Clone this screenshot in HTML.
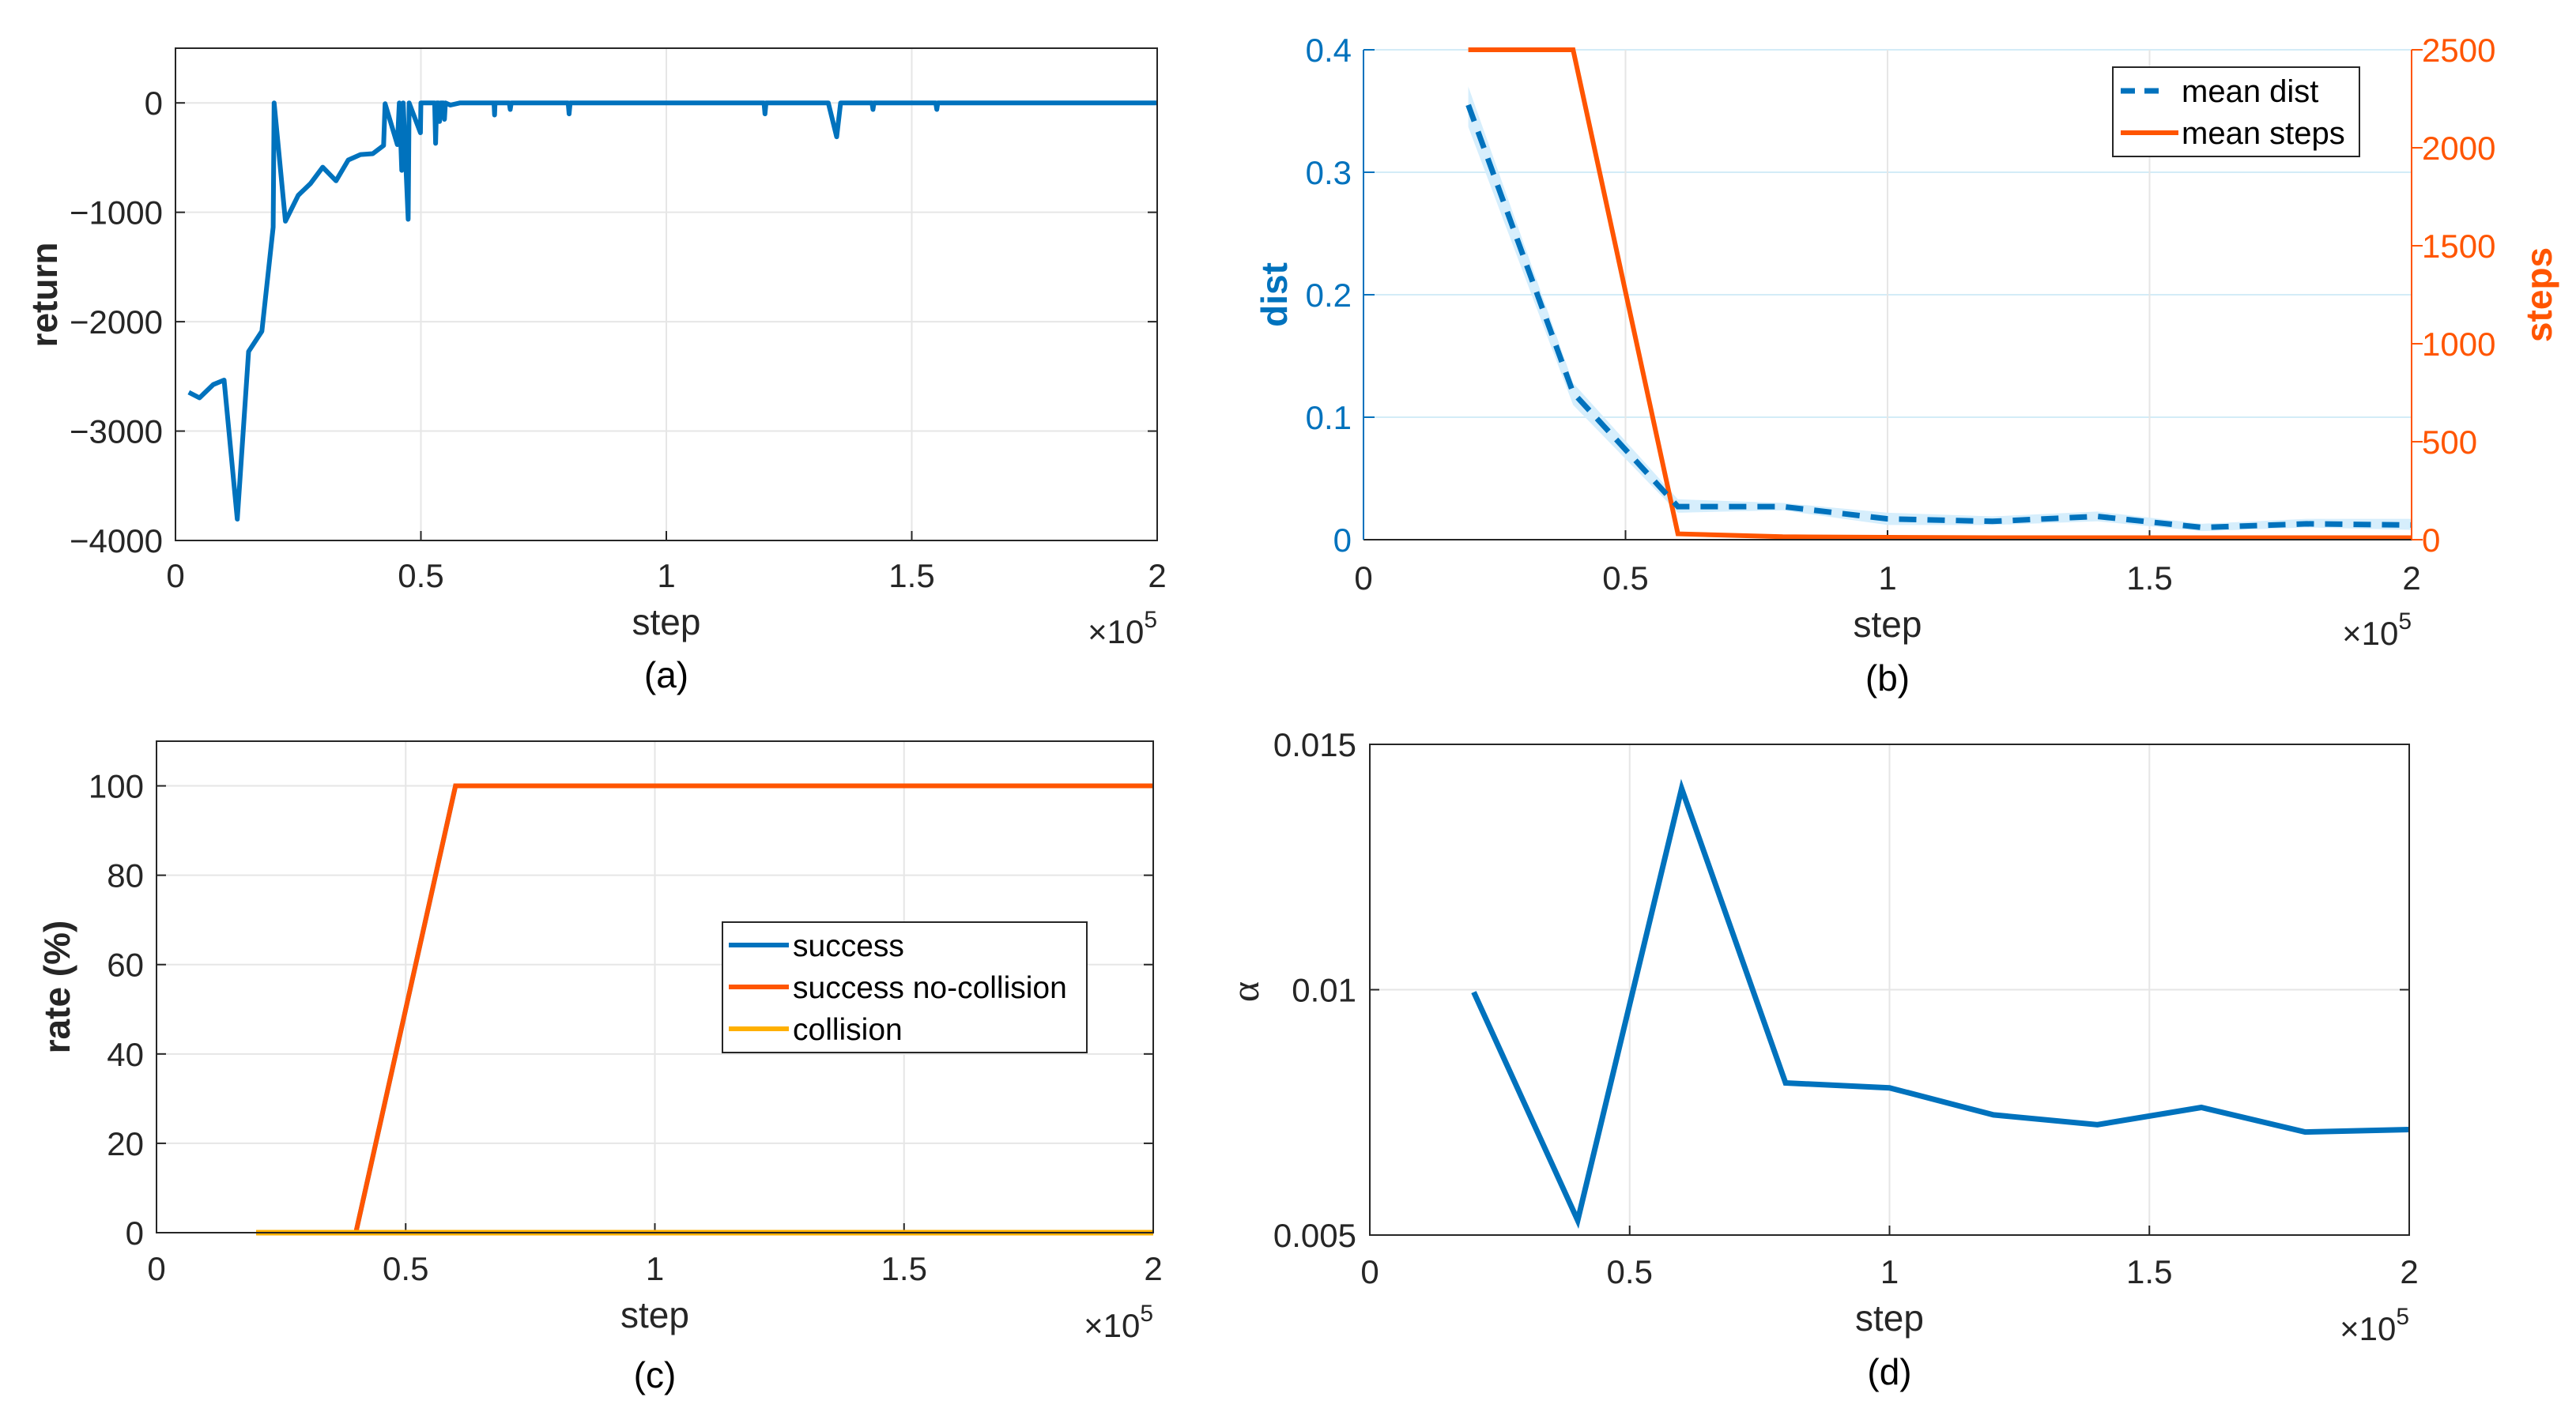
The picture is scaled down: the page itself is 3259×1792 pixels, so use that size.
<!DOCTYPE html>
<html><head><meta charset="utf-8">
<style>
html,body{margin:0;padding:0;background:#fff;overflow:hidden;}
svg{display:block;font-family:"Liberation Sans",Arial,sans-serif;}
</style></head>
<body>
<svg id="fig" width="3259" height="1792" viewBox="0 0 3259 1792" xmlns="http://www.w3.org/2000/svg"></svg>
<script>
// ---------- data ----------
// panel (a): return vs step (x in 1e5)
const aX = [0.027,0.049,0.077,0.099,0.126,0.149,0.176,0.199,0.201,0.224,0.25,0.275,0.30,0.327,0.352,0.377,0.402,0.424,0.427,0.452,0.456,0.461,0.464,0.474,0.476,0.499,0.50,0.528,0.530,0.532,0.536,0.538,0.540,0.546,0.548,0.550,0.56,0.58,0.60,0.649,0.650,0.651,0.680,0.682,0.684,0.80,0.802,0.804,1.199,1.201,1.203,1.33,1.347,1.355,1.419,1.421,1.423,1.549,1.551,1.553,2.0];
const aY = [-2646,-2696,-2575,-2534,-3805,-2273,-2087,-1135,0,-1081,-845,-737,-588,-712,-522,-472,-464,-389,-8,-381,0,-617,0,-1064,0,-273,0,0,-370,0,0,-170,0,0,-150,0,-20,0,0,0,-110,0,0,-60,0,0,-100,0,0,-100,0,0,-310,0,0,-60,0,0,-60,0,0];
const aXTicks = [0,0.5,1,1.5,2];
const aYTicks = [-4000,-3000,-2000,-1000,0];
const aYTickLabels = ["\u22124000","\u22123000","\u22122000","\u22121000","0"];
// panel (b)
const bX = [0.2,0.4,0.6,0.8,1.0,1.2,1.4,1.6,1.8,2.0];
const bDist = [0.355,0.12,0.027,0.027,0.017,0.015,0.019,0.010,0.013,0.012];
const bDistHi = [0.370,0.128,0.033,0.030,0.022,0.019,0.023,0.013,0.017,0.017];
const bDistLo = [0.337,0.110,0.022,0.024,0.012,0.012,0.015,0.007,0.010,0.008];
const bSteps = [2500,2500,30,15,12,10,10,10,10,10];
const bXTicks = [0,0.5,1,1.5,2];
const bDistTicks = [0,0.1,0.2,0.3,0.4];
const bDistTickLabels = ["0","0.1","0.2","0.3","0.4"];
const bStepTicks = [0,500,1000,1500,2000,2500];
// panel (c)
const cX = [0.2,0.4,0.6,0.8,1.0,1.2,1.4,1.6,1.8,2.0];
const cSuccess = [0,0,100,100,100,100,100,100,100,100];
const cNoColl = [0,0,100,100,100,100,100,100,100,100];
const cColl = [0,0,0,0,0,0,0,0,0,0];
const cXTicks = [0,0.5,1,1.5,2];
const cYTicks = [0,20,40,60,80,100];
// panel (d)
const dX = [0.2,0.4,0.6,0.8,1.0,1.2,1.4,1.6,1.8,2.0];
const dAlpha = [0.00995,0.0053,0.0141,0.0081,0.0080,0.00745,0.00725,0.0076,0.0071,0.00715];
const dXTicks = [0,0.5,1,1.5,2];
const dYTicks = [0.005,0.01,0.015];
const dYTickLabels = ["0.005","0.01","0.015"];

// ---------- helpers ----------
const NS="http://www.w3.org/2000/svg";
const svg=document.getElementById('fig');
function mk(tag,attrs,parent,text){const e=document.createElementNS(NS,tag);for(const k in attrs)e.setAttribute(k,attrs[k]);if(text!==undefined)e.textContent=text;(parent||svg).appendChild(e);return e;}
function lin(d0,d1,r0,r1){return v=>r0+(v-d0)*(r1-r0)/(d1-d0);}
function pathOf(xs,ys,sx,sy){return xs.map((x,i)=>(i?'L':'M')+sx(x).toFixed(1)+','+sy(ys[i]).toFixed(1)).join(' ');}
const BLUE='#0072BD',ORANGE='#FF5500',YELLOW='#FFB000',GRID='#e6e6e6';
const FS=42, TS=46;

function xAxis(g,ticks,sx,y0,y1,labY,titleY,mulX,mulY,sub,letter){
  ticks.forEach(t=>{
    const l=mk('line',{x1:sx(t),x2:sx(t),y1:y0,y2:y1,stroke:GRID,'stroke-width':2},g);
    
    const tk=mk('line',{x1:sx(t),x2:sx(t),y1:y1,y2:y1-12,stroke:'#262626','stroke-width':2},g);
    
    const tx=mk('text',{x:sx(t),y:labY,'font-size':FS,'text-anchor':'middle',fill:'#262626'},g,String(t));
    
  });
  const cx=(sx(ticks[0])+sx(ticks[ticks.length-1]))/2;
  const tt=mk('text',{x:cx,y:titleY,'font-size':TS,'text-anchor':'middle',fill:'#262626'},g,'step');
  
  const m=mk('text',{x:mulX,y:mulY,'font-size':FS,'text-anchor':'end',fill:'#262626'},g);
  
  mk('tspan',{},m,'\u00d710');
  mk('tspan',{dy:-20,'font-size':30},m,'5');
  const s=mk('text',{x:cx,y:sub,'font-size':TS,'text-anchor':'middle',fill:'#000'},g,'('+letter+')');
  
}

// ---------- panel (a) ----------
(function(){
  const L=222,R=1464,T=61,B=684;
  const sx=lin(0,2,L,R), sy=lin(-4000,500,B,T);
  const g=mk('g',{});
  aYTicks.forEach((t,i)=>{
    const l=mk('line',{x1:L,x2:R,y1:sy(t),y2:sy(t),stroke:GRID,'stroke-width':2},g);
    
    mk('line',{x1:L,x2:L+12,y1:sy(t),y2:sy(t),stroke:'#262626','stroke-width':2},g);
    mk('line',{x1:R,x2:R-12,y1:sy(t),y2:sy(t),stroke:'#262626','stroke-width':2},g);
    const tx=mk('text',{x:206,y:sy(t)+15,'font-size':FS,'text-anchor':'end',fill:'#262626'},g,aYTickLabels[i]);
    
  });
  xAxis(g,aXTicks,sx,T,B,743,803,1464,814,870,'a');
  const p=mk('path',{d:pathOf(aX,aY,sx,sy),fill:'none',stroke:BLUE,'stroke-width':6,'stroke-linejoin':'round'},g);
  
  const bx=mk('rect',{x:L,y:T,width:R-L,height:B-T,fill:'none',stroke:'#262626','stroke-width':2},g);
  
  const yt=mk('text',{x:0,y:0,'font-size':TS,'font-weight':'bold','text-anchor':'middle',fill:'#262626',transform:'translate(72,373) rotate(-90)'},g,'return');
  
})();

// ---------- panel (b) ----------
(function(){
  const L=1725,R=3051,T=63,B=683;
  const sx=lin(0,2,L,R), sy=lin(0,0.4,B,T), sy2=lin(0,2500,B,T);
  const g=mk('g',{});
  bDistTicks.forEach((t,i)=>{
    const l=mk('line',{x1:L,x2:R,y1:sy(t),y2:sy(t),stroke:'#d3ecf7','stroke-width':2},g);
    
    mk('line',{x1:L,x2:L+14,y1:sy(t),y2:sy(t),stroke:BLUE,'stroke-width':2},g);
    const tx=mk('text',{x:1710,y:sy(t)+15,'font-size':FS,'text-anchor':'end',fill:BLUE},g,bDistTickLabels[i]);
    
  });
  bStepTicks.forEach(t=>{
    mk('line',{x1:R,x2:R+14,y1:sy2(t),y2:sy2(t),stroke:ORANGE,'stroke-width':2},g);
    const tx=mk('text',{x:3064,y:sy2(t)+15,'font-size':FS,'text-anchor':'start',fill:ORANGE},g,String(t));
    
  });
  xAxis(g,bXTicks,sx,T,B,746,806,3051,816,874,'b');
  const band=bX.map((x,i)=>(i?'L':'M')+sx(x)+','+sy(bDistHi[i])).join(' ')+' '+bX.slice().reverse().map((x,j)=>'L'+sx(x)+','+sy(bDistLo[bX.length-1-j])).join(' ')+' Z';
  const bd=mk('path',{d:band,fill:'#d6eefc',stroke:'none'},g);
  
  const ps=mk('path',{d:pathOf(bX,bSteps,sx,sy2),fill:'none',stroke:ORANGE,'stroke-width':6},g);
  
  const pd=mk('path',{d:pathOf(bX,bDist,sx,sy),fill:'none',stroke:BLUE,'stroke-width':7,'stroke-dasharray':'22,14'},g);
  
  mk('line',{x1:L,x2:R,y1:B,y2:B,stroke:'#262626','stroke-width':2},g);
  mk('line',{x1:L,x2:L,y1:T,y2:B,stroke:BLUE,'stroke-width':2},g);
  mk('line',{x1:R,x2:R,y1:T,y2:B,stroke:ORANGE,'stroke-width':2},g);
  const yt=mk('text',{x:0,y:0,'font-size':TS,'font-weight':'bold','text-anchor':'middle',fill:BLUE,transform:'translate(1628,373) rotate(-90)'},g,'dist');
  
  const yt2=mk('text',{x:0,y:0,'font-size':TS,'font-weight':'bold','text-anchor':'middle',fill:ORANGE,transform:'translate(3228,373) rotate(-90)'},g,'steps');
  
  const lg=mk('g',{},g);
  mk('rect',{x:2673,y:85,width:312,height:113,fill:'#fff',stroke:'#262626','stroke-width':2},lg);
  mk('line',{x1:2683,x2:2743,y1:115,y2:115,stroke:BLUE,'stroke-width':7,'stroke-dasharray':'18,12'},lg);
  const t1=mk('text',{x:2760,y:129,'font-size':40,fill:'#000'},lg,'mean dist');
  
  mk('line',{x1:2683,x2:2756,y1:168,y2:168,stroke:ORANGE,'stroke-width':6},lg);
  const t2=mk('text',{x:2760,y:182,'font-size':40,fill:'#000'},lg,'mean steps');
  
})();

// ---------- panel (c) ----------
(function(){
  const L=198,R=1459,T=938,B=1560;
  const sx=lin(0,2,L,R), sy=lin(0,110,B,T);
  const g=mk('g',{});
  cYTicks.forEach(t=>{
    const l=mk('line',{x1:L,x2:R,y1:sy(t),y2:sy(t),stroke:GRID,'stroke-width':2},g);
    
    mk('line',{x1:L,x2:L+12,y1:sy(t),y2:sy(t),stroke:'#262626','stroke-width':2},g);
    mk('line',{x1:R,x2:R-12,y1:sy(t),y2:sy(t),stroke:'#262626','stroke-width':2},g);
    const tx=mk('text',{x:182,y:sy(t)+15,'font-size':FS,'text-anchor':'end',fill:'#262626'},g,String(t));
    
  });
  xAxis(g,cXTicks,sx,T,B,1620,1680,1459,1692,1756,'c');
  const p1=mk('path',{d:pathOf(cX,cSuccess,sx,sy),fill:'none',stroke:BLUE,'stroke-width':6},g);
  
  const p2=mk('path',{d:pathOf(cX,cNoColl,sx,sy),fill:'none',stroke:ORANGE,'stroke-width':6},g);
  
  const p3=mk('path',{d:pathOf(cX,cColl,sx,sy),fill:'none',stroke:YELLOW,'stroke-width':7},g);
  
  const bx=mk('rect',{x:L,y:T,width:R-L,height:B-T,fill:'none',stroke:'#262626','stroke-width':2},g);
  
  const yt=mk('text',{x:0,y:0,'font-size':TS,'font-weight':'bold','text-anchor':'middle',fill:'#262626',transform:'translate(88,1249) rotate(-90)'},g,'rate (%)');
  
  const lg=mk('g',{},g);
  mk('rect',{x:914,y:1167,width:461,height:165,fill:'#fff',stroke:'#262626','stroke-width':2},lg);
  const names=['success','success no-collision','collision'],cols=[BLUE,ORANGE,YELLOW];
  names.forEach((n,i)=>{
    const y=1196+i*53;
    mk('line',{x1:922,x2:998,y1:y,y2:y,stroke:cols[i],'stroke-width':6},lg);
    const t=mk('text',{x:1003,y:y+14,'font-size':39,fill:'#000'},lg,n);
    
  });
})();

// ---------- panel (d) ----------
(function(){
  const L=1733,R=3048,T=942,B=1563;
  const sx=lin(0,2,L,R), sy=lin(0.005,0.015,B,T);
  const g=mk('g',{});
  dYTicks.forEach((t,i)=>{
    const l=mk('line',{x1:L,x2:R,y1:sy(t),y2:sy(t),stroke:GRID,'stroke-width':2},g);
    
    mk('line',{x1:L,x2:L+12,y1:sy(t),y2:sy(t),stroke:'#262626','stroke-width':2},g);
    mk('line',{x1:R,x2:R-12,y1:sy(t),y2:sy(t),stroke:'#262626','stroke-width':2},g);
    const tx=mk('text',{x:1716,y:sy(t)+15,'font-size':FS,'text-anchor':'end',fill:'#262626'},g,dYTickLabels[i]);
    
  });
  xAxis(g,dXTicks,sx,T,B,1624,1684,3048,1696,1752,'d');
  const p=mk('path',{d:pathOf(dX,dAlpha,sx,sy),fill:'none',stroke:BLUE,'stroke-width':7},g);
  
  const bx=mk('rect',{x:L,y:T,width:R-L,height:B-T,fill:'none',stroke:'#262626','stroke-width':2},g);
  
  const yt=mk('text',{x:0,y:0,'font-size':50,'text-anchor':'middle',fill:'#262626','font-family':'Liberation Serif, serif',transform:'translate(1592,1255) rotate(-90)'},g,'\u03b1');
  
})();
</script>
</body></html>
